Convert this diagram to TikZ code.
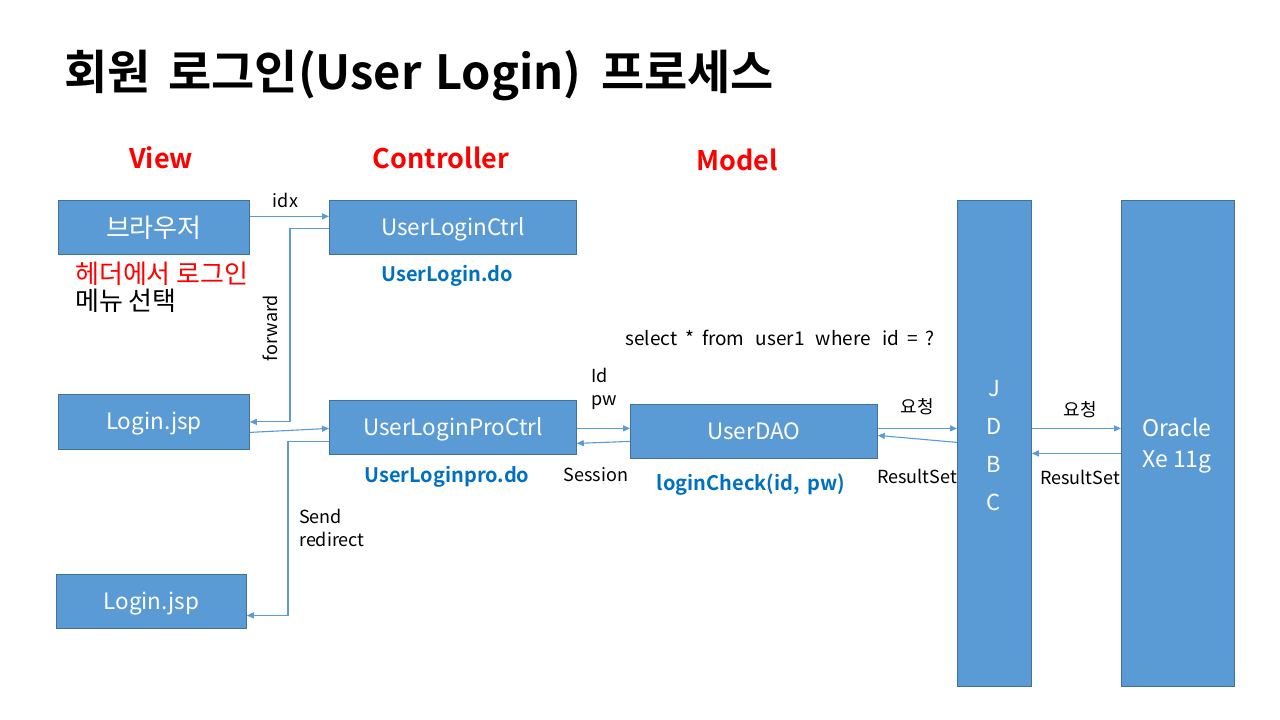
\documentclass[tikz,border=0pt]{standalone}
\usepackage{fontspec}
\setmainfont{Noto Sans CJK KR}[BoldFont=* Bold]
\usetikzlibrary{arrows.meta}
\definecolor{boxfill}{HTML}{5B9BD5}
\definecolor{boxline}{HTML}{41719C}
\definecolor{lred}{HTML}{FF0000}
\definecolor{lblue}{HTML}{0070C0}
\tikzset{
  x=1pt,y=-1pt,
  box/.style={draw=boxline,fill=boxfill,line width=0.8pt,text=white,font=\fontsize{22.5}{26}\selectfont,inner sep=0pt,text depth=1.5pt},
  arr/.style={draw=boxfill,line width=1.1pt,-{Triangle[length=7pt,width=6pt]}},
  lbl/.style={font=\fontsize{18}{23}\selectfont,text=black,inner sep=0pt,align=left},
  head/.style={font=\fontsize{27}{30}\selectfont\bfseries,text=lred,inner sep=0pt},
  blu/.style={font=\fontsize{20}{23}\selectfont\bfseries,text=lblue,inner sep=0pt},
}
\newcommand{\bx}[6]{\node[box,minimum width=#4pt,minimum height=#5pt,anchor=north west,align=center] (#1) at (#2,#3) {#6};}
\begin{document}
\begin{tikzpicture}
\useasboundingbox[fill=white] (0,0) rectangle (1280,720);
% title
\node[anchor=west,inner sep=0pt,font=\fontsize{47}{52}\selectfont\bfseries] (title) at (64,76) {회원\hspace{7pt} 로그인(User\hspace{3pt} Login)\hspace{9pt} 프로세스};
% headers
\node[head] (hview) at (161,158) {View};
\node[head] (hctrl) at (441,158) {Controller};
\node[head] (hmodel) at (737,160) {Model};
% boxes
\bx{browser}{58}{200}{191}{54}{\fontsize{26}{30}\selectfont 브라우저}
\bx{ctrl}{329}{200}{247}{54}{UserLoginCtrl}
\bx{login1}{58}{394}{191}{55}{Login.jsp}
\bx{pro}{329}{400}{247}{54}{UserLoginProCtrl}
\bx{login2}{56}{574}{190}{54}{Login.jsp}
\bx{dao}{630}{404}{247}{54}{UserDAO}
\node[box,minimum width=74pt,minimum height=486pt,anchor=north west] (jdbc) at (957,200) {};
\node[box,minimum width=113pt,minimum height=486pt,anchor=north west] (oracle) at (1121,200) {};
\node[font=\fontsize{22}{38}\selectfont,text=white,align=center,inner sep=0pt] (jdbctext) at (994,446) {J\\D\\B\\C};
\node[font=\fontsize{23}{31}\selectfont,text=white,align=center,inner sep=0pt] (oratext) at (1177,446) {Oracle\\Xe 11g};
% texts
\node[anchor=west,inner sep=0pt,font=\fontsize{26}{27}\selectfont,align=left] (menu) at (75,287) {\textcolor{lred}{헤더에서 로그인}\\메뉴 선택};
\node[blu] (uldo) at (447,276) {UserLogin.do};
\node[blu] (ulpdo) at (447,477) {UserLoginpro.do};
\node[blu] (lcheck) at (751,485) {loginCheck(id,\, pw)};
\node[lbl,anchor=west,font=\fontsize{19}{23}\selectfont] (sql) at (625,338) {select\hspace{8pt}*\hspace{8pt}from\hspace{7pt} user1\hspace{7pt} where\hspace{7pt} id\hspace{8pt}=\hspace{8pt}?};
% connectors
\draw[arr] ([yshift=11pt]browser.east) -- node[lbl,above=8pt,pos=0.45] (idx) {idx} ([yshift=11pt]ctrl.west);
\draw[arr] ([yshift=-1pt]ctrl.west) -- ++(-39,0) coordinate (fw) |- (login1.east);
\node[lbl,rotate=90] (fwlbl) at (270,328) {forward};
\draw[arr] ([yshift=-10.5pt]login1.east) -- ([yshift=-1pt]pro.west);
\draw[arr] ([yshift=-14pt]pro.west) -- ++(-41,0) |- ([yshift=-14pt]login2.east);
\node[lbl,anchor=north west] (send) at (299,509) {Send\\redirect};
\draw[arr] ([yshift=-1pt]pro.east) -- ([yshift=3pt]dao.west);
\draw[arr] ([yshift=-10pt]dao.west) -- ([yshift=-16pt]pro.east);
\node[lbl,anchor=north west] (idpw) at (591,368) {Id\\pw};
\node[lbl] (sess) at (596,475) {Session};
\draw[arr] ([yshift=3pt]dao.east) -- ([yshift=15pt]jdbc.west);
\draw[arr] ([yshift=1pt]jdbc.west) -- ([yshift=-4pt]dao.east);
\node[lbl] (req1) at (917,407) {요청};
\node[lbl] (rs1) at (917,476) {ResultSet};
\draw[arr] ([yshift=15pt]jdbc.east) -- ([yshift=15pt]oracle.west);
\draw[arr] ([yshift=-10pt]oracle.west) -- ([yshift=-10pt]jdbc.east);
\node[lbl] (req2) at (1080,410) {요청};
\node[lbl] (rs2) at (1080,477) {ResultSet};
\end{tikzpicture}
\end{document}
